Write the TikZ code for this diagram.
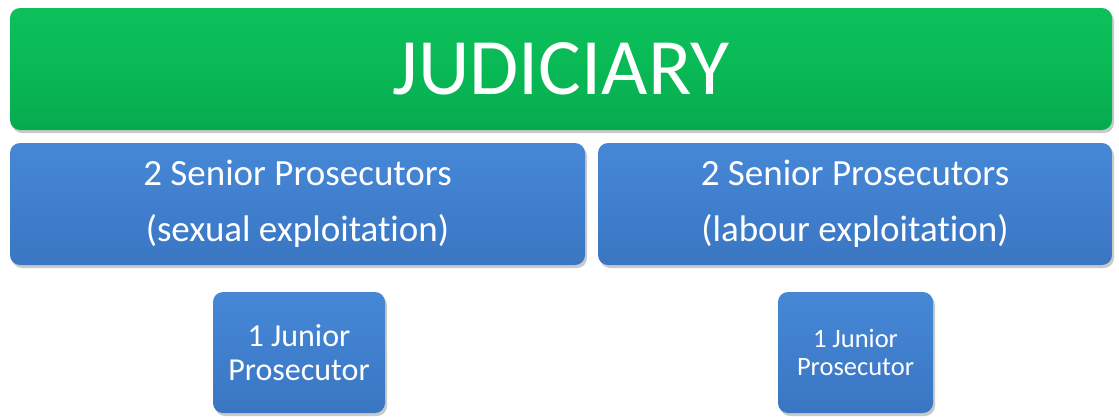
\documentclass[tikz,border=0pt]{standalone}
\usepackage{fontspec}
\setmainfont{Carlito}[Ligatures=NoCommon]
\usetikzlibrary{shadows,positioning}
\definecolor{jgreen}{RGB}{8,185,85}
\definecolor{jgreentop}{RGB}{14,192,92}
\definecolor{pblue}{RGB}{64,127,205}
\definecolor{pbluetop}{RGB}{70,136,214}
\definecolor{pbluebot}{RGB}{58,118,194}
\tikzset{
box/.style={rounded corners=10pt,draw=none,text=white,align=center,inner sep=0pt,
  drop shadow={shadow xshift=2pt,shadow yshift=-3pt,opacity=0.35,fill=black!60}},
greenbox/.style={box,top color=jgreentop,bottom color=jgreen!92!black,middle color=jgreen},
bluebox/.style={box,top color=pbluetop,bottom color=pbluebot,middle color=pblue},
}

\begin{document}
\begin{tikzpicture}[x=1pt,y=-1pt]
  \useasboundingbox (0,0) rectangle (1119,418);
  % top bar
  \node[greenbox,minimum width=1102pt,minimum height=122pt,
    font=\fontsize{80}{84}\selectfont] (judiciary) at (561,69) {JUDICIARY};
  % senior prosecutors
  \node[bluebox,minimum width=575pt,minimum height=122pt,
    font=\fontsize{37}{56}\selectfont] (senSex) at (297.5,204)
    {2 Senior Prosecutors\\(sexual exploitation)};
  \node[bluebox,minimum width=514pt,minimum height=122pt,
    font=\fontsize{37}{56}\selectfont] (senLab) at (855,204)
    {2 Senior Prosecutors\\(labour exploitation)};
  % junior prosecutors
  \node[bluebox,minimum width=172pt,minimum height=121pt,
    font=\fontsize{32}{34}\selectfont] (junSex) at (299,352.5)
    {1 Junior\\Prosecutor};
  \node[bluebox,minimum width=155pt,minimum height=121pt,
    font=\fontsize{26.5}{28}\selectfont] (junLab) at (855.5,352.5)
    {1 Junior\\Prosecutor};
\end{tikzpicture}
\end{document}
